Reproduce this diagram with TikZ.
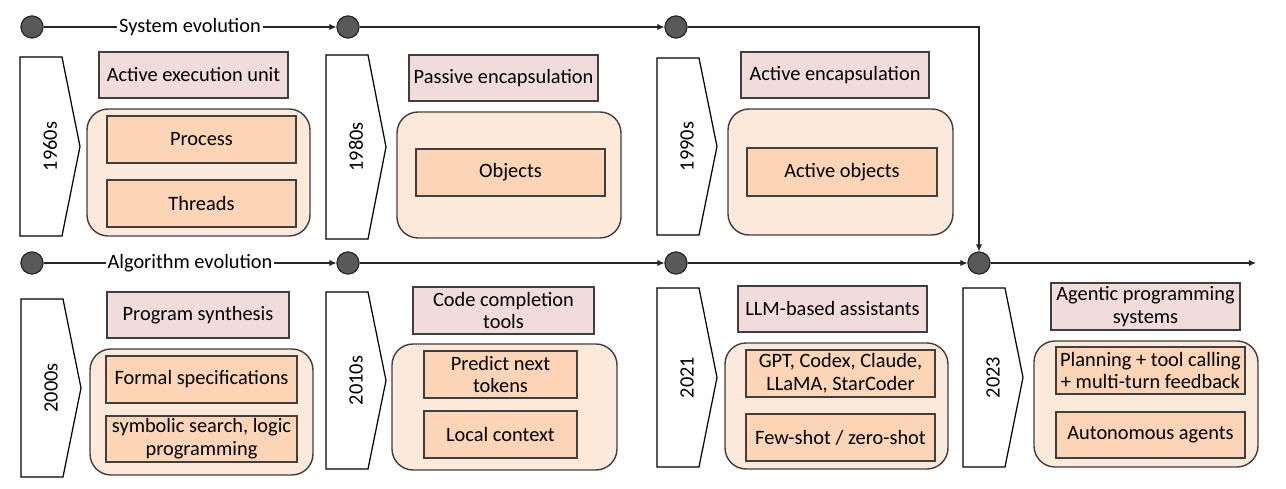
\documentclass[tikz,border=0pt]{standalone}
\usepackage{fontspec}
\setmainfont{Carlito}
\usepackage{tikz}
\usetikzlibrary{arrows.meta, positioning, fit, backgrounds}
\definecolor{lblpink}{HTML}{F2DCDB}
\definecolor{grppeach}{HTML}{FDE9D9}
\definecolor{itempeach}{HTML}{FBD5B5}
\definecolor{edgegray}{HTML}{3F3F3F}
\definecolor{dotgray}{HTML}{595959}
\newcommand{\boxfont}{\fontsize{11.6}{13}\selectfont}
\tikzset{
    boxtext/.style={align=center, inner sep=0pt, font=\boxfont},
    lbl/.style={draw=edgegray, fill=lblpink, line width=0.8pt, inner sep=0pt},
    grp/.style={draw=edgegray, fill=grppeach, line width=0.8pt, inner sep=0pt, rounded corners=12pt},
    item/.style={draw=edgegray, fill=itempeach, line width=0.8pt, inner sep=0pt},
    chev/.style={draw=black, fill=white, line width=0.7pt, line join=miter},
    yearlbl/.style={rotate=90, inner sep=0pt, font=\boxfont},
    dot/.style={circle, draw=black!85, fill=dotgray, minimum size=0.44cm, inner sep=0pt, line width=0.6pt},
    arrow/.style={-{Latex[length=4pt,width=3.5pt]}, draw=black!85, line width=0.6pt},
    line/.style={draw=black!85, line width=0.6pt}
}
\begin{document}
\begin{tikzpicture}[x=0.02cm, y=-0.02cm]

        % bounding box
        \useasboundingbox (0,0) rectangle (1286,489);

        % -----------------------------------------------------------------
        % TIMELINE DOTS
        % -----------------------------------------------------------------
        \node (s1) [dot] at (32, 27) {};
        \node (s2) [dot] at (348, 27) {};
        \node (s3) [dot] at (676, 27) {};

        \node (b1) [dot] at (32, 263) {};
        \node (b2) [dot] at (348, 263) {};
        \node (b3) [dot] at (676, 263) {};
        \node (b4) [dot] at (979, 263) {};

        \coordinate (fine) at (1256, 263);

        % -----------------------------------------------------------------
        % CHEVRONS (years)
        % -----------------------------------------------------------------
        \foreach \nm/\yr/\xa/\ya/\yb in {y60/1960s/20/57/236, y80/1980s/326/55/239, y90/1990s/657/58/235,
                                        y00/2000s/21/299/477, y10/2010s/326/292/469, y21/2021/657/288/467,
                                        y23/2023/963/288/467} {
            \draw[chev] (\xa,\ya) -- ({\xa+42},\ya) -- ({\xa+60},{(\ya+\yb)/2}) -- ({\xa+42},\yb) -- (\xa,\yb) -- cycle;
            \node (\nm) [yearlbl] at ({\xa+30},{(\ya+\yb)/2}) {\yr};
        }

        % =================================================================
        % SYSTEM EVOLUTION
        % =================================================================

        % 1960s
        \node (t60) [lbl, fit={(99,52) (288,98)}, label={[boxtext]center:Active execution unit}] {};
        \node (g60) [grp, fit={(87,109) (310,236)}] {};
        \node (process) [item, fit={(107,116) (296,163)}, label={[boxtext]center:Process}] {};
        \node (threads) [item, fit={(107,180) (296,227)}, label={[boxtext]center:Threads}] {};

        % 1980s
        \node (t80) [lbl, fit={(409,55) (598,101)}, label={[boxtext]center:Passive encapsulation}] {};
        \node (g80) [grp, fit={(397,112) (621,238)}] {};
        \node (objects) [item, fit={(416,149) (605,196)}, label={[boxtext]center:Objects}] {};

        % 1990s
        \node (t90) [lbl, fit={(741,52) (929,98)}, label={[boxtext]center:Active encapsulation}] {};
        \node (g90) [grp, fit={(728,109) (953,235)}] {};
        \node (actobj) [item, fit={(747,148) (937,196)}, label={[boxtext]center:Active objects}] {};

        % =================================================================
        % ALGORITHM EVOLUTION
        % =================================================================

        % 2000s
        \node (t00) [lbl, fit={(107,292) (289,338)}, label={[boxtext]center:Program synthesis}] {};
        \node (g00) [grp, fit={(90,349) (313,475)}] {};
        \node (formal) [item, fit={(106,356) (297,403)}, label={[boxtext]center:Formal specifications}] {};
        \node (symb) [item, fit={(106,416) (297,462)}, label={[boxtext]center:symbolic search, logic\\programming}] {};

        % 2010s
        \node (t10) [lbl, fit={(413,287) (594,334)}, label={[boxtext]center:Code completion\\tools}] {};
        \node (g10) [grp, fit={(392,344) (617,470)}] {};
        \node (predict) [item, fit={(424,351) (577,398)}, label={[boxtext]center:Predict next\\tokens}] {};
        \node (local) [item, fit={(424,411) (577,458)}, label={[boxtext]center:Local context}] {};

        % 2021
        \node (t21) [lbl, fit={(738,286) (927,332)}, label={[boxtext]center:LLM-based assistants}] {};
        \node (g21) [grp, fit={(725,343) (948,469)}] {};
        \node (models) [item, fit={(746,350) (935,397)}, label={[boxtext]center:GPT, Codex, Claude,\\LLaMA, StarCoder}] {};
        \node (fewshot) [item, fit={(746,414) (935,461)}, label={[boxtext]center:Few-shot / zero-shot}] {};

        % 2023
        \node (t23) [lbl, fit={(1051,283) (1240,330)}, label={[boxtext]center:Agentic programming\\systems}] {};
        \node (g23) [grp, fit={(1034,341) (1258,467)}] {};
        \node (planning) [item, fit={(1056,347) (1245,394)}, label={[boxtext]center:Planning + tool calling\\+ multi-turn feedback}] {};
        \node (agents) [item, fit={(1056,412) (1245,458)}, label={[boxtext]center:Autonomous agents}] {};

        % -----------------------------------------------------------------
        % TIMELINE CONNECTIONS
        % -----------------------------------------------------------------
        \draw[arrow] (s1) -- node[fill=white, inner sep=1pt, font=\boxfont] {System evolution} (s2);
        \draw[arrow] (s2) -- (s3);
        \draw[arrow] (s3) -| (b4);

        \draw[arrow] (b1) -- node[fill=white, inner sep=1pt, font=\boxfont] {Algorithm evolution} (b2);
        \draw[arrow] (b2) -- (b3);
        \draw[arrow] (b3) -- (b4);
        \draw[arrow] (b4) -- (fine);

        % redraw dots on top
        \foreach \d in {s1,s2,s3,b1,b2,b3,b4} {
            \node[dot] at (\d) {};
        }

    \end{tikzpicture}
\end{document}
